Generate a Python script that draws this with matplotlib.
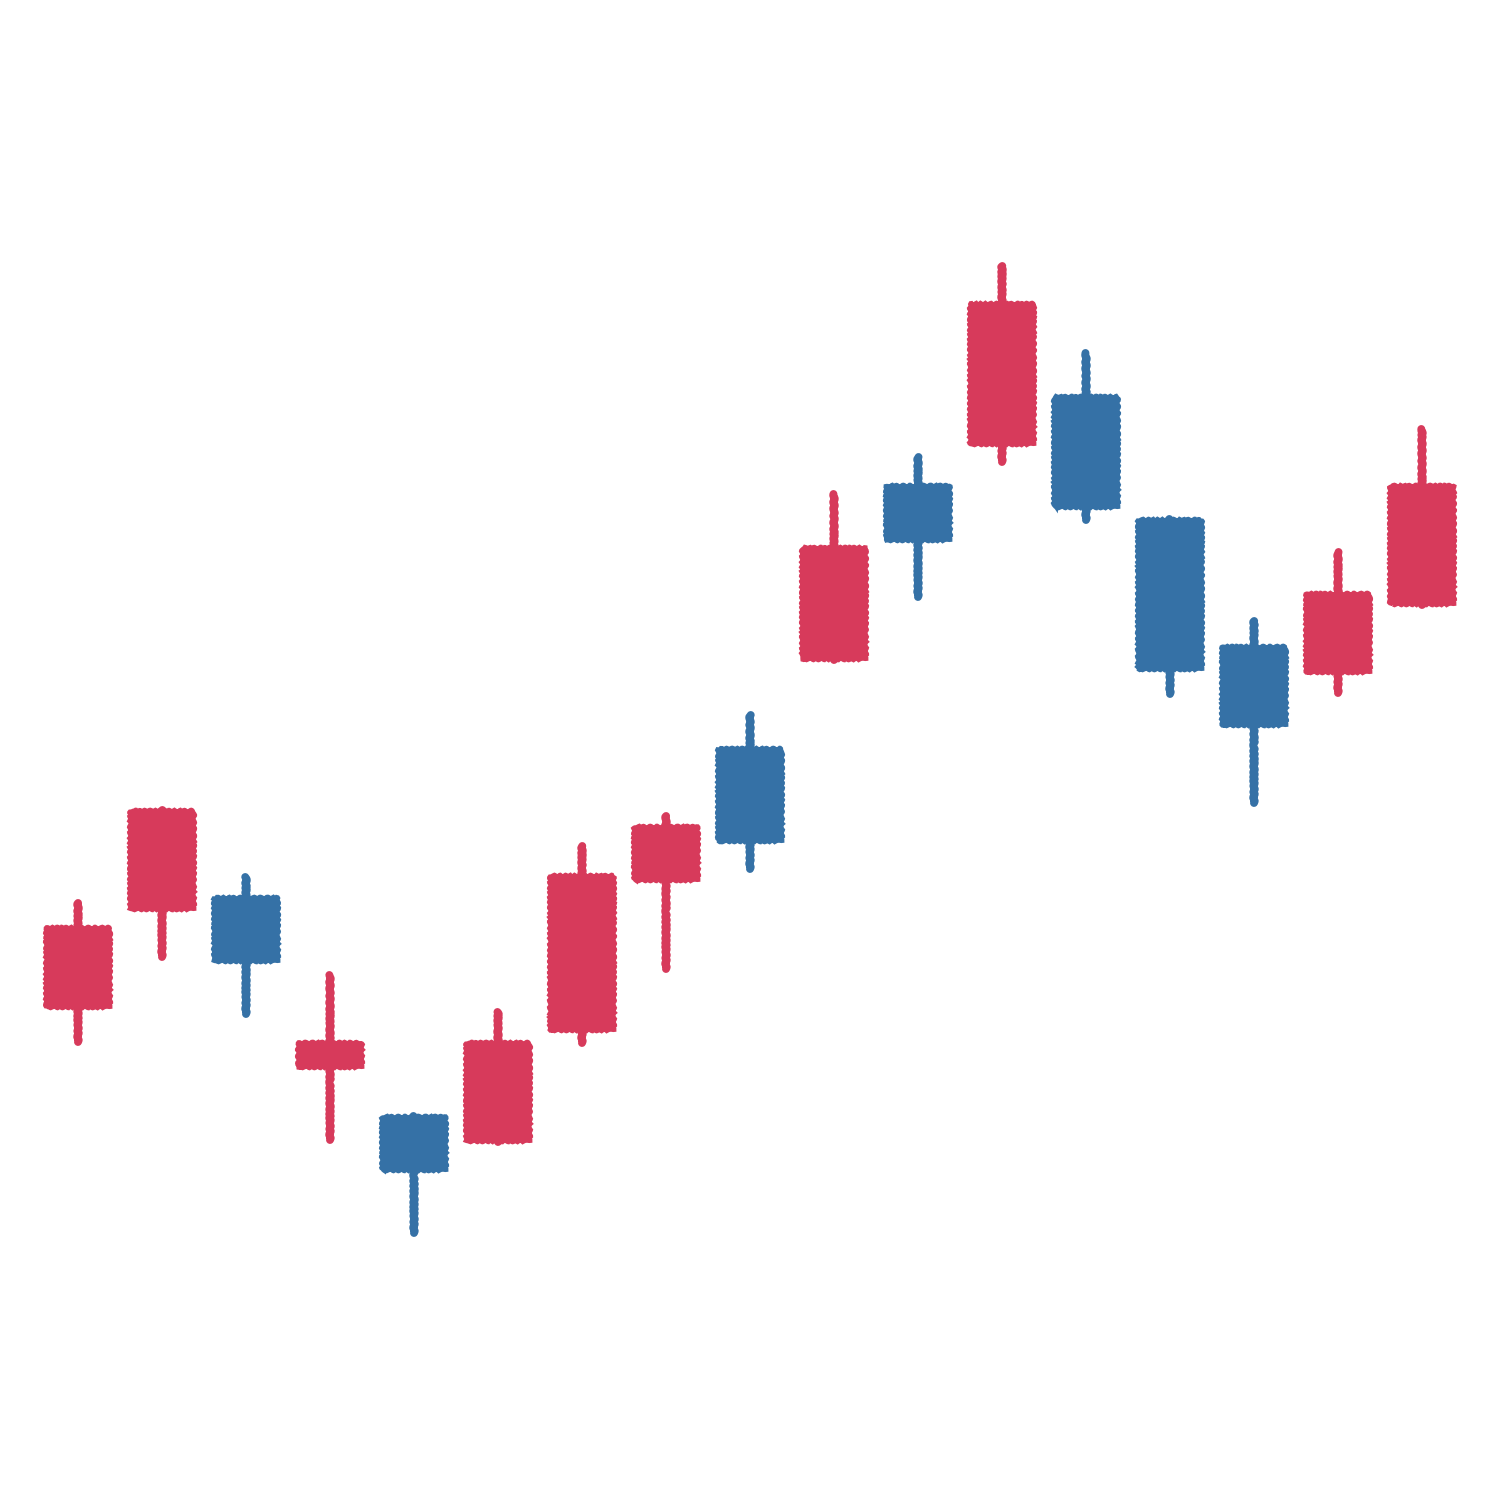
import matplotlib
matplotlib.use("Agg")
import matplotlib.pyplot as plt
from matplotlib.patches import FancyBboxPatch

# Candlestick data (index units); red = up, blue = down
opens  = [49.2, 59.0, 60.3, 43.2, 38.4, 35.8, 46.9, 61.9, 75.2, 84.0, 101.5, 105.5, 110.4, 98.1, 85.4, 82.7, 89.5]
closes = [57.3, 69.0, 53.8, 45.8, 32.9, 45.8, 62.5, 67.4, 65.8, 95.3, 95.9, 119.7, 99.2, 83.0, 77.4, 90.7, 101.5]
highs  = [59.7, 69.0, 62.3, 52.5, 38.4, 48.8, 65.4, 68.4, 78.5, 100.6, 104.3, 123.4, 114.7, 98.1, 87.9, 94.8, 107.1]
lows   = [45.8, 54.3, 48.6, 36.0, 26.7, 35.8, 45.7, 53.1, 63.1, 84.0, 90.3, 103.8, 98.0, 80.6, 69.7, 80.7, 89.5]

UP = "#d73a5b"
DOWN = "#3571a6"

plt.rcParams['path.sketch'] = (0.8, 6, 2)

fig = plt.figure(figsize=(10, 10), dpi=150)
ax = fig.add_axes([0, 0, 1, 1])
ax.set_xlim(-0.929, 16.929)
ax.set_ylim(0, 150)
ax.axis("off")

w = 0.78
for i, (o, c, h, l) in enumerate(zip(opens, closes, highs, lows)):
    col = UP if c >= o else DOWN
    ax.plot([i, i], [l, h], color=col, lw=3.8, solid_capstyle="round", zorder=1)
    bot = min(o, c)
    ht = abs(c - o)
    rect = FancyBboxPatch((i - w / 2, bot), w, ht,
                          boxstyle="round,pad=0,rounding_size=0.04",
                          mutation_aspect=8,
                          facecolor=col, edgecolor=col, lw=1.5, zorder=2)
    ax.add_patch(rect)

fig.savefig("out.png", dpi=150, facecolor="white")
